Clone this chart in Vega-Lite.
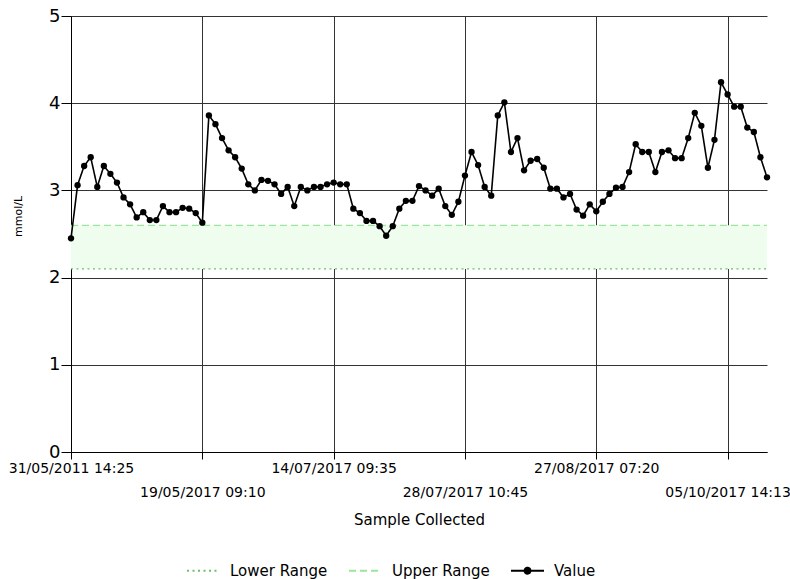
{
  "$schema": "https://vega.github.io/schema/vega-lite/v6.json",
  "width": 696,
  "height": 436,
  "autosize": {"type": "none"},
  "padding": {"left": 71, "top": 16, "right": 23, "bottom": 127},
  "background": "white",
  "config": {
    "view": {"stroke": null},
    "font": "DejaVu Sans",
    "axis": {"zindex": 1}
  },
  "data": {
    "values": [
      {"i":0,"Value":2.45,"Lower Range":2.1,"Upper Range":2.6},
      {"i":1,"Value":3.06,"Lower Range":2.1,"Upper Range":2.6},
      {"i":2,"Value":3.28,"Lower Range":2.1,"Upper Range":2.6},
      {"i":3,"Value":3.38,"Lower Range":2.1,"Upper Range":2.6},
      {"i":4,"Value":3.04,"Lower Range":2.1,"Upper Range":2.6},
      {"i":5,"Value":3.28,"Lower Range":2.1,"Upper Range":2.6},
      {"i":6,"Value":3.19,"Lower Range":2.1,"Upper Range":2.6},
      {"i":7,"Value":3.09,"Lower Range":2.1,"Upper Range":2.6},
      {"i":8,"Value":2.92,"Lower Range":2.1,"Upper Range":2.6},
      {"i":9,"Value":2.84,"Lower Range":2.1,"Upper Range":2.6},
      {"i":10,"Value":2.69,"Lower Range":2.1,"Upper Range":2.6},
      {"i":11,"Value":2.75,"Lower Range":2.1,"Upper Range":2.6},
      {"i":12,"Value":2.66,"Lower Range":2.1,"Upper Range":2.6},
      {"i":13,"Value":2.66,"Lower Range":2.1,"Upper Range":2.6},
      {"i":14,"Value":2.82,"Lower Range":2.1,"Upper Range":2.6},
      {"i":15,"Value":2.75,"Lower Range":2.1,"Upper Range":2.6},
      {"i":16,"Value":2.75,"Lower Range":2.1,"Upper Range":2.6},
      {"i":17,"Value":2.80,"Lower Range":2.1,"Upper Range":2.6},
      {"i":18,"Value":2.79,"Lower Range":2.1,"Upper Range":2.6},
      {"i":19,"Value":2.74,"Lower Range":2.1,"Upper Range":2.6},
      {"i":20,"Value":2.63,"Lower Range":2.1,"Upper Range":2.6},
      {"i":21,"Value":3.86,"Lower Range":2.1,"Upper Range":2.6},
      {"i":22,"Value":3.76,"Lower Range":2.1,"Upper Range":2.6},
      {"i":23,"Value":3.60,"Lower Range":2.1,"Upper Range":2.6},
      {"i":24,"Value":3.46,"Lower Range":2.1,"Upper Range":2.6},
      {"i":25,"Value":3.38,"Lower Range":2.1,"Upper Range":2.6},
      {"i":26,"Value":3.25,"Lower Range":2.1,"Upper Range":2.6},
      {"i":27,"Value":3.07,"Lower Range":2.1,"Upper Range":2.6},
      {"i":28,"Value":3.00,"Lower Range":2.1,"Upper Range":2.6},
      {"i":29,"Value":3.12,"Lower Range":2.1,"Upper Range":2.6},
      {"i":30,"Value":3.11,"Lower Range":2.1,"Upper Range":2.6},
      {"i":31,"Value":3.07,"Lower Range":2.1,"Upper Range":2.6},
      {"i":32,"Value":2.96,"Lower Range":2.1,"Upper Range":2.6},
      {"i":33,"Value":3.04,"Lower Range":2.1,"Upper Range":2.6},
      {"i":34,"Value":2.82,"Lower Range":2.1,"Upper Range":2.6},
      {"i":35,"Value":3.04,"Lower Range":2.1,"Upper Range":2.6},
      {"i":36,"Value":3.00,"Lower Range":2.1,"Upper Range":2.6},
      {"i":37,"Value":3.04,"Lower Range":2.1,"Upper Range":2.6},
      {"i":38,"Value":3.04,"Lower Range":2.1,"Upper Range":2.6},
      {"i":39,"Value":3.07,"Lower Range":2.1,"Upper Range":2.6},
      {"i":40,"Value":3.09,"Lower Range":2.1,"Upper Range":2.6},
      {"i":41,"Value":3.07,"Lower Range":2.1,"Upper Range":2.6},
      {"i":42,"Value":3.07,"Lower Range":2.1,"Upper Range":2.6},
      {"i":43,"Value":2.79,"Lower Range":2.1,"Upper Range":2.6},
      {"i":44,"Value":2.74,"Lower Range":2.1,"Upper Range":2.6},
      {"i":45,"Value":2.65,"Lower Range":2.1,"Upper Range":2.6},
      {"i":46,"Value":2.65,"Lower Range":2.1,"Upper Range":2.6},
      {"i":47,"Value":2.59,"Lower Range":2.1,"Upper Range":2.6},
      {"i":48,"Value":2.48,"Lower Range":2.1,"Upper Range":2.6},
      {"i":49,"Value":2.59,"Lower Range":2.1,"Upper Range":2.6},
      {"i":50,"Value":2.79,"Lower Range":2.1,"Upper Range":2.6},
      {"i":51,"Value":2.88,"Lower Range":2.1,"Upper Range":2.6},
      {"i":52,"Value":2.88,"Lower Range":2.1,"Upper Range":2.6},
      {"i":53,"Value":3.05,"Lower Range":2.1,"Upper Range":2.6},
      {"i":54,"Value":3.00,"Lower Range":2.1,"Upper Range":2.6},
      {"i":55,"Value":2.94,"Lower Range":2.1,"Upper Range":2.6},
      {"i":56,"Value":3.02,"Lower Range":2.1,"Upper Range":2.6},
      {"i":57,"Value":2.82,"Lower Range":2.1,"Upper Range":2.6},
      {"i":58,"Value":2.72,"Lower Range":2.1,"Upper Range":2.6},
      {"i":59,"Value":2.87,"Lower Range":2.1,"Upper Range":2.6},
      {"i":60,"Value":3.17,"Lower Range":2.1,"Upper Range":2.6},
      {"i":61,"Value":3.44,"Lower Range":2.1,"Upper Range":2.6},
      {"i":62,"Value":3.29,"Lower Range":2.1,"Upper Range":2.6},
      {"i":63,"Value":3.04,"Lower Range":2.1,"Upper Range":2.6},
      {"i":64,"Value":2.94,"Lower Range":2.1,"Upper Range":2.6},
      {"i":65,"Value":3.86,"Lower Range":2.1,"Upper Range":2.6},
      {"i":66,"Value":4.01,"Lower Range":2.1,"Upper Range":2.6},
      {"i":67,"Value":3.44,"Lower Range":2.1,"Upper Range":2.6},
      {"i":68,"Value":3.60,"Lower Range":2.1,"Upper Range":2.6},
      {"i":69,"Value":3.23,"Lower Range":2.1,"Upper Range":2.6},
      {"i":70,"Value":3.34,"Lower Range":2.1,"Upper Range":2.6},
      {"i":71,"Value":3.36,"Lower Range":2.1,"Upper Range":2.6},
      {"i":72,"Value":3.26,"Lower Range":2.1,"Upper Range":2.6},
      {"i":73,"Value":3.02,"Lower Range":2.1,"Upper Range":2.6},
      {"i":74,"Value":3.02,"Lower Range":2.1,"Upper Range":2.6},
      {"i":75,"Value":2.92,"Lower Range":2.1,"Upper Range":2.6},
      {"i":76,"Value":2.96,"Lower Range":2.1,"Upper Range":2.6},
      {"i":77,"Value":2.78,"Lower Range":2.1,"Upper Range":2.6},
      {"i":78,"Value":2.71,"Lower Range":2.1,"Upper Range":2.6},
      {"i":79,"Value":2.84,"Lower Range":2.1,"Upper Range":2.6},
      {"i":80,"Value":2.76,"Lower Range":2.1,"Upper Range":2.6},
      {"i":81,"Value":2.87,"Lower Range":2.1,"Upper Range":2.6},
      {"i":82,"Value":2.96,"Lower Range":2.1,"Upper Range":2.6},
      {"i":83,"Value":3.03,"Lower Range":2.1,"Upper Range":2.6},
      {"i":84,"Value":3.04,"Lower Range":2.1,"Upper Range":2.6},
      {"i":85,"Value":3.21,"Lower Range":2.1,"Upper Range":2.6},
      {"i":86,"Value":3.53,"Lower Range":2.1,"Upper Range":2.6},
      {"i":87,"Value":3.44,"Lower Range":2.1,"Upper Range":2.6},
      {"i":88,"Value":3.44,"Lower Range":2.1,"Upper Range":2.6},
      {"i":89,"Value":3.21,"Lower Range":2.1,"Upper Range":2.6},
      {"i":90,"Value":3.44,"Lower Range":2.1,"Upper Range":2.6},
      {"i":91,"Value":3.46,"Lower Range":2.1,"Upper Range":2.6},
      {"i":92,"Value":3.37,"Lower Range":2.1,"Upper Range":2.6},
      {"i":93,"Value":3.37,"Lower Range":2.1,"Upper Range":2.6},
      {"i":94,"Value":3.60,"Lower Range":2.1,"Upper Range":2.6},
      {"i":95,"Value":3.89,"Lower Range":2.1,"Upper Range":2.6},
      {"i":96,"Value":3.74,"Lower Range":2.1,"Upper Range":2.6},
      {"i":97,"Value":3.26,"Lower Range":2.1,"Upper Range":2.6},
      {"i":98,"Value":3.58,"Lower Range":2.1,"Upper Range":2.6},
      {"i":99,"Value":4.24,"Lower Range":2.1,"Upper Range":2.6},
      {"i":100,"Value":4.10,"Lower Range":2.1,"Upper Range":2.6},
      {"i":101,"Value":3.96,"Lower Range":2.1,"Upper Range":2.6},
      {"i":102,"Value":3.96,"Lower Range":2.1,"Upper Range":2.6},
      {"i":103,"Value":3.72,"Lower Range":2.1,"Upper Range":2.6},
      {"i":104,"Value":3.67,"Lower Range":2.1,"Upper Range":2.6},
      {"i":105,"Value":3.38,"Lower Range":2.1,"Upper Range":2.6},
      {"i":106,"Value":3.15,"Lower Range":2.1,"Upper Range":2.6}
    ]
  },
  "encoding": {
    "x": {
      "field": "i",
      "type": "quantitative",
      "scale": {"domain": [0, 106], "nice": false, "zero": false},
      "axis": {
        "title": "Sample Collected",
        "titleFontSize": 15,
        "titleFontWeight": "normal",
        "titleColor": "#000",
        "titleBaseline": "middle",
        "titleY": 67,
        "values": [0, 20, 40, 60, 80, 100],
        "labelExpr": "datum.value == 0 ? '31/05/2011 14:25' : datum.value == 20 ? [' ', '19/05/2017 09:10'] : datum.value == 40 ? '14/07/2017 09:35' : datum.value == 60 ? [' ', '28/07/2017 10:45'] : datum.value == 80 ? '27/08/2017 07:20' : [' ', '05/10/2017 14:13']",
        "labelFontSize": 14,
        "labelColor": "#000",
        "labelLineHeight": 24,
        "labelBaseline": "top",
        "labelPadding": 2,
        "labelOverlap": false,
        "labelFlush": false,
        "tickSize": 7,
        "tickColor": "#000",
        "domainColor": "#000",
        "grid": true,
        "gridColor": "#333",
        "gridOpacity": 1
      }
    }
  },
  "layer": [
    {
      "mark": {"type": "area", "color": "#effdef", "opacity": 1},
      "encoding": {
        "y": {"field": "Lower Range", "type": "quantitative"},
        "y2": {"field": "Upper Range"}
      }
    },
    {
      "transform": [{"fold": ["Lower Range", "Upper Range", "Value"], "as": ["series", "v"]}],
      "mark": {"type": "line"},
      "encoding": {
        "y": {
          "field": "v",
          "type": "quantitative",
          "scale": {"domain": [0, 5], "nice": false},
          "axis": {
            "title": "mmol/L",
            "titleFontSize": 11,
            "titleFontWeight": "normal",
            "titleColor": "#000",
            "titleAngle": -90,
            "titleBaseline": "middle",
            "titleAlign": "center",
            "titleX": -53,
            "titleY": 200,
            "values": [0, 1, 2, 3, 4, 5],
            "format": "d",
            "labelFontSize": 18,
            "labelColor": "#000",
            "labelPadding": 1,
            "tickSize": 10,
            "tickColor": "#000",
            "domainColor": "#000",
            "grid": true,
            "gridColor": "#333",
            "gridOpacity": 1
          }
        },
        "color": {
          "field": "series",
          "type": "nominal",
          "scale": {"domain": ["Lower Range", "Upper Range", "Value"], "range": ["#6cbf6c", "#9be69b", "#000000"]},
          "legend": {
            "title": null,
            "orient": "none",
            "legendX": 115,
            "legendY": 537,
            "direction": "horizontal",
            "symbolType": "stroke",
            "symbolSize": 1089,
            "symbolStrokeWidth": 2,
            "labelFontSize": 15,
            "labelColor": "#000",
            "labelOffset": 9,
            "columnPadding": 17,
            "padding": 0,
            "encode": {
              "symbols": {
                "update": {
                  "shape": {"signal": "datum.value === 'Value' ? 'M-1,0H1M-0.18,0A0.18,0.18,0,1,1,0.18,0A0.18,0.18,0,1,1,-0.18,0Z' : 'stroke'"},
                  "fill": {"signal": "datum.value === 'Value' ? '#000' : 'transparent'"}
                }
              }
            }
          }
        },
        "strokeDash": {
          "field": "series",
          "type": "nominal",
          "scale": {"domain": ["Lower Range", "Upper Range", "Value"], "range": [[2, 3.5], [7, 4], [1, 0]]},
          "legend": {
            "title": null,
            "orient": "none",
            "legendX": 115,
            "legendY": 537,
            "direction": "horizontal",
            "symbolType": "stroke",
            "symbolSize": 1089,
            "symbolStrokeWidth": 2,
            "labelFontSize": 15,
            "labelColor": "#000",
            "labelOffset": 9,
            "columnPadding": 17,
            "padding": 0
          }
        },
        "strokeWidth": {
          "condition": {"test": "datum.series === 'Value'", "value": 1.6},
          "value": 1.2
        }
      }
    },
    {
      "mark": {"type": "point", "filled": true, "color": "#000", "size": 40, "opacity": 1},
      "encoding": {
        "y": {"field": "Value", "type": "quantitative"}
      }
    }
  ]
}
